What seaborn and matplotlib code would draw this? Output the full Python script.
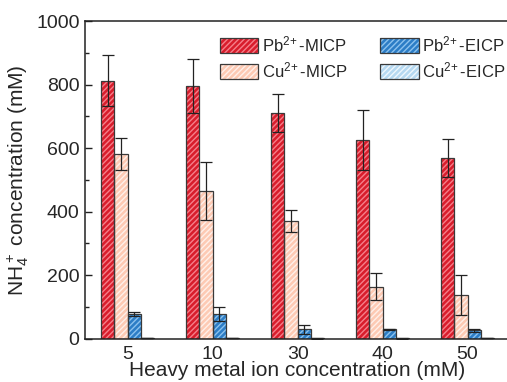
import numpy as np
import pandas as pd
import matplotlib
matplotlib.use('Agg')
import matplotlib.pyplot as plt
from matplotlib.patches import Rectangle, Patch
from matplotlib.legend_handler import HandlerTuple
from matplotlib.ticker import MultipleLocator
import seaborn as sns

# data
concs = ['5', '10', '30', '40', '50']
groups = ['Pb$^{2\\!+}$-MICP', 'Cu$^{2\\!+}$-MICP', 'Pb$^{2\\!+}$-EICP', 'Cu$^{2\\!+}$-EICP']
pb_micp = [812, 795, 710, 625, 570]
pb_micp_err = [80, 85, 60, 95, 60]
cu_micp = [582, 465, 370, 164, 138]
cu_micp_err = [50, 92, 35, 42, 63]
pb_eicp = [78, 78, 30, 30, 27]
pb_eicp_err = [6, 23, 15, 2, 4]
cu_eicp = [3, 3, 2, 2, 3]
cu_eicp_err = [1, 1, 1, 1, 1]

faces = ['#D81D2C', '#FDCAB4', '#2C7DC6', '#B6D9F1']
hatch_cols = ['#F57F8A', '#FFF0EA', '#8CC2EE', '#EEF7FD']
edge = '#3a3a3a'

vals = [pb_micp, cu_micp, pb_eicp, cu_eicp]
errs = [pb_micp_err, cu_micp_err, pb_eicp_err, cu_eicp_err]
df = pd.DataFrame({
    'conc': concs * 4,
    'group': np.repeat(groups, len(concs)),
    'value': np.concatenate(vals),
})

sns.set_style('ticks')
plt.rcParams['font.family'] = ['Liberation Sans', 'DejaVu Sans']
plt.rcParams['mathtext.default'] = 'regular'
plt.rcParams['hatch.linewidth'] = 1.0

fig = plt.figure(figsize=(5.07, 3.82), dpi=100)
ax = fig.add_axes([0.168, 0.113, 1.006 - 0.168, 0.945 - 0.113])

sns.barplot(data=df, x='conc', y='value', hue='group', order=concs, hue_order=groups,
            palette=faces, width=0.62, errorbar=None, legend=False, ax=ax,
            linewidth=0, saturation=1)

# hatch in a lighter tint, dark outline on top, own error bars
for cont, hc, err in zip(ax.containers, hatch_cols, errs):
    xs = []
    ys = []
    for p in cont.patches:
        p.set_hatch('//////')
        p.set_edgecolor(hc)
        p.set_linewidth(0)
        r = Rectangle((p.get_x(), p.get_y()), p.get_width(), p.get_height(),
                      fill=False, edgecolor=edge, lw=0.9, zorder=p.get_zorder() + 0.1)
        ax.add_patch(r)
        xs.append(p.get_x() + p.get_width() / 2)
        ys.append(p.get_height())
    ax.errorbar(xs, ys, yerr=err, fmt='none', ecolor='#222222', elinewidth=0.9,
                capsize=4, capthick=0.9, zorder=5)

ax.set_xlim(-0.5, 4.5)
ax.set_ylim(0, 1000)
ax.yaxis.set_major_locator(MultipleLocator(200))
ax.yaxis.set_minor_locator(MultipleLocator(100))
ax.tick_params(axis='y', which='major', direction='in', length=5, width=1, labelsize=14, color='#222222', pad=4)
ax.tick_params(axis='y', which='minor', direction='in', length=3, width=1, color='#222222')
ax.tick_params(axis='x', length=0, labelsize=14, pad=5)
for s in ax.spines.values():
    s.set_linewidth(1.1)
    s.set_color('#222222')

ax.set_xlabel('Heavy metal ion concentration (mM)', fontsize=15, labelpad=-1)
ax.set_ylabel('NH$_4^+$ concentration (mM)', fontsize=15, labelpad=4)

handles = []
for fc, hc in zip(faces, hatch_cols):
    h1 = Patch(facecolor=fc, edgecolor=hc, hatch='//////', lw=0)
    h2 = Patch(facecolor='none', edgecolor=edge, lw=0.9)
    handles.append((h1, h2))
ax.legend(handles, groups, handler_map={tuple: HandlerTuple(ndivide=1, pad=0)},
          ncol=2, frameon=False, fontsize=12, loc='upper left',
          bbox_to_anchor=(0.286, 1.0), handlelength=2.3, handleheight=1.0,
          handletextpad=0.2, columnspacing=1.95, labelspacing=0.35, borderaxespad=0.4)

fig.savefig('out.png', dpi=100)
